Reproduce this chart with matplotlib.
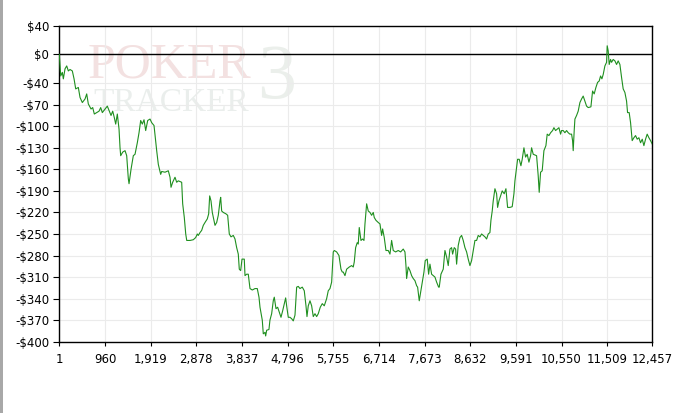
import numpy as np
import matplotlib
matplotlib.use('Agg')
import matplotlib.pyplot as plt
from matplotlib.patches import Rectangle

# hands played vs. cumulative winnings ($)
hands = [1, 30, 64, 85, 121, 156, 190, 226, 274, 310, 345, 400, 436, 484, 541, 576, 610, 667, 702, 736,
         786, 835, 870, 904, 961, 1009, 1051, 1087, 1122, 1156, 1185, 1219, 1255, 1276, 1290, 1332, 1381, 1416, 1450, 1465,
         1507, 1555, 1591, 1639, 1675, 1710, 1744, 1780, 1815, 1857, 1906, 1941, 1990, 2046, 2080, 2130, 2151, 2221, 2290, 2326,
         2347, 2382, 2431, 2466, 2500, 2571, 2592, 2626, 2656, 2677, 2746, 2815, 2865, 2899, 2920, 2956, 2991, 3025, 3061, 3109,
         3138, 3159, 3187, 3214, 3250, 3271, 3306, 3340, 3376, 3390, 3411, 3445, 3502, 3537, 3571, 3607, 3655, 3691, 3726, 3760,
         3781, 3810, 3838, 3886, 3901, 3936, 3970, 3991, 4006, 4054, 4111, 4159, 4195, 4216, 4264, 4285, 4321, 4335, 4356, 4404,
         4425, 4461, 4495, 4516, 4552, 4587, 4621, 4657, 4692, 4726, 4755, 4776, 4810, 4846, 4881, 4915, 4951, 4986, 5020, 5056,
         5104, 5146, 5182, 5203, 5230, 5266, 5301, 5335, 5371, 5406, 5440, 5482, 5524, 5566, 5616, 5650, 5686, 5721, 5755, 5776,
         5826, 5875, 5917, 5944, 5965, 6001, 6036, 6091, 6141, 6175, 6196, 6225, 6259, 6280, 6301, 6337, 6372, 6400, 6421, 6456,
         6490, 6526, 6561, 6595, 6616, 6652, 6700, 6736, 6771, 6792, 6826, 6862, 6910, 6946, 6981, 7015, 7065, 7120, 7170, 7225,
         7261, 7282, 7296, 7330, 7366, 7401, 7435, 7471, 7506, 7527, 7561, 7590, 7624, 7660, 7687, 7729, 7758, 7786, 7821, 7855,
         7891, 7926, 7968, 7981, 8017, 8065, 8101, 8136, 8170, 8206, 8241, 8262, 8296, 8325, 8346, 8380, 8416, 8451, 8485, 8521,
         8556, 8590, 8626, 8661, 8695, 8731, 8766, 8800, 8836, 8871, 8905, 8941, 8976, 9010, 9046, 9067, 9094, 9115, 9151, 9186,
         9207, 9235, 9270, 9304, 9346, 9382, 9417, 9466, 9514, 9550, 9571, 9606, 9627, 9661, 9697, 9724, 9760, 9795, 9829, 9865,
         9900, 9921, 9955, 9991, 10026, 10060, 10081, 10110, 10144, 10180, 10222, 10249, 10285, 10321, 10362, 10390, 10425, 10459, 10495, 10530,
         10551, 10585, 10621, 10656, 10690, 10726, 10761, 10782, 10795, 10816, 10831, 10866, 10900, 10936, 10971, 11005, 11041, 11076, 11110, 11167,
         11202, 11236, 11272, 11307, 11341, 11370, 11398, 11425, 11461, 11496, 11509, 11530, 11551, 11580, 11601, 11635, 11671, 11706, 11740, 11776,
         11811, 11845, 11881, 11916, 11937, 11971, 12000, 12034, 12070, 12105, 12139, 12175, 12210, 12245, 12280, 12315, 12349, 12385, 12420, 12457]
profit = [0, -30, -25, -34, -20, -16, -23, -21, -23, -34, -48, -46, -60, -67, -62, -55, -69, -76, -74, -83,
          -81, -79, -74, -81, -76, -72, -79, -85, -79, -88, -97, -83, -104, -130, -141, -136, -134, -141, -173, -180,
          -160, -141, -139, -123, -109, -92, -97, -91, -106, -92, -90, -95, -99, -134, -153, -167, -163, -164, -162, -171,
          -185, -178, -171, -178, -176, -178, -208, -227, -250, -259, -259, -258, -255, -250, -252, -248, -245, -238, -234, -229,
          -222, -197, -204, -220, -231, -238, -234, -224, -204, -199, -218, -220, -222, -224, -250, -254, -252, -257, -269, -278,
          -299, -301, -285, -285, -308, -306, -306, -317, -326, -328, -326, -326, -338, -352, -370, -389, -387, -392, -384, -383,
          -370, -361, -343, -338, -354, -352, -359, -366, -357, -347, -339, -350, -366, -366, -368, -371, -363, -324, -323, -326,
          -324, -329, -350, -365, -350, -343, -350, -365, -361, -365, -361, -352, -347, -350, -340, -329, -326, -317, -275, -273,
          -275, -280, -299, -303, -303, -308, -299, -296, -294, -296, -289, -269, -262, -264, -241, -259, -257, -259, -236, -208,
          -218, -220, -224, -220, -227, -231, -234, -236, -252, -243, -255, -273, -273, -278, -259, -273, -275, -273, -275, -271,
          -275, -294, -312, -296, -301, -308, -312, -315, -322, -324, -343, -331, -317, -303, -287, -285, -306, -292, -306, -308,
          -310, -317, -324, -324, -306, -299, -273, -282, -294, -271, -269, -278, -269, -271, -292, -266, -255, -252, -259, -269,
          -275, -285, -294, -287, -273, -259, -259, -252, -254, -250, -252, -254, -257, -250, -248, -231, -218, -204, -187, -194,
          -213, -204, -197, -190, -194, -187, -213, -213, -212, -194, -176, -157, -146, -146, -155, -146, -130, -143, -139, -150,
          -141, -130, -139, -140, -141, -169, -192, -164, -162, -134, -127, -111, -113, -109, -106, -102, -106, -104, -102, -111,
          -106, -106, -109, -106, -109, -111, -111, -120, -134, -106, -90, -85, -79, -67, -62, -58, -65, -72, -74, -73,
          -51, -55, -46, -39, -37, -30, -34, -28, -16, -11, 12, 5, -14, -7, -11, -7, -9, -14, -9, -14,
          -32, -48, -53, -65, -81, -81, -95, -120, -116, -113, -118, -116, -123, -118, -127, -118, -111, -116, -120, -125]

yticks = [40, 0, -40, -70, -100, -130, -160, -190, -220, -250, -280, -310, -340, -370, -400]
xticks = [1, 960, 1919, 2878, 3837, 4796, 5755, 6714, 7673, 8632, 9591, 10550, 11509, 12457]

fig = plt.figure(figsize=(6.75, 4.13), dpi=100)
fig.patches.append(Rectangle((0, 0), 3 / 675, 1, transform=fig.transFigure,
                             facecolor='#a8a8a8', edgecolor='none'))
ax = fig.add_axes([0.0879, 0.1726, 0.8785, 0.7652])

# faint watermark
ax.text(0.047, 0.876, 'POKER', transform=ax.transAxes, fontsize=36, family='Liberation Serif',
        color='#f3e1e1', va='center', ha='left', zorder=0)
ax.text(0.057, 0.757, 'TRACKER', transform=ax.transAxes, fontsize=24, family='Liberation Serif',
        color='#eaeeec', va='center', ha='left', zorder=0)
ax.text(0.333, 0.83, '3', transform=ax.transAxes, fontsize=56, family='Liberation Serif',
        color='#ebefeb', va='center', ha='left', zorder=0)

ax.plot(hands, profit, color='#1f8f1f', lw=0.8, zorder=3)
ax.axhline(0, color='black', lw=1, zorder=2)

ax.set_xlim(1, 12457)
ax.set_ylim(-400, 40)
ax.set_xticks(xticks)
ax.set_xticklabels([f'{t:,}' for t in xticks])
ax.set_yticks(yticks)
ax.set_yticklabels([f'-${-t}' if t < 0 else f'${t}' for t in yticks])
ax.grid(True, color='#ebebeb', lw=0.8, zorder=1)
ax.set_axisbelow(True)
ax.tick_params(axis='y', length=4.3, width=0.8, pad=3, labelsize=8.5)
ax.tick_params(axis='x', length=3, width=0.8, pad=5, labelsize=8.5)
for s in ax.spines.values():
    s.set_color('black')
    s.set_linewidth(1)

fig.savefig('out.png', dpi=100, facecolor='white')
